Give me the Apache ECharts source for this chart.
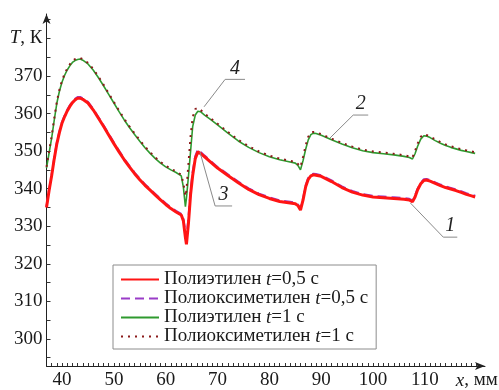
<!DOCTYPE html>
<html>
<head>
<meta charset="utf-8">
<script src="https://cdn.jsdelivr.net/npm/echarts@6/dist/echarts.min.js"></script>
<style>
  html, body { margin: 0; padding: 0; background: #fff; }
  #box { width: 499px; height: 390px; }
</style>
</head>
<body>
<div id="box"></div>
<script>
// x, мм
var xs = [37, 37.5, 38, 38.5, 39, 39.5, 40, 40.5, 41, 41.5, 42, 42.5, 43, 43.5, 44, 45, 46, 47, 48, 49,
  50, 51, 52, 53, 54, 55, 56, 57, 58, 59, 60, 61, 62, 63, 63.4, 63.8, 64, 64.4, 64.8, 65.2,
  65.7, 66.2, 66.7, 67.5, 68.5, 70, 72, 74, 76, 78, 80, 82, 84, 85, 85.5, 86, 86.5, 87, 87.5, 88,
  88.5, 89, 90, 92, 94, 96, 98, 100, 102, 104, 106, 107, 107.6, 108.1, 108.6, 109.2, 109.8, 110.3, 111, 112,
  113, 114, 115, 116, 117, 118, 119, 119.7];

// Полиэтилен t=0,5 с
var pe05 = [335.0, 339.5, 343.5, 348.0, 352.0, 355.0, 357.5, 359.2, 360.7, 361.9, 362.9, 363.6, 364.1, 364.1, 363.8, 362.8, 361.0, 358.8, 356.6, 354.3,
  352.0, 349.8, 347.7, 345.8, 344.0, 342.4, 340.9, 339.6, 338.3, 337.0, 335.8, 334.7, 333.8, 333.0, 331.5, 327.0, 325.2, 331.0, 338.5, 343.5,
  348.0, 349.8, 349.4, 348.5, 347.3, 345.5, 343.5, 341.6, 339.8, 338.4, 337.4, 336.6, 336.2, 336.0, 335.5, 334.3, 337.0, 340.5, 342.5, 343.4,
  343.7, 343.6, 343.3, 341.9, 340.3, 339.1, 338.3, 337.8, 337.6, 337.4, 337.2, 337.0, 336.5, 337.8, 339.7, 341.3, 342.2, 342.3, 342.0, 341.4,
  340.8, 340.3, 339.9, 339.5, 339.0, 338.5, 338.1, 337.8];

// Полиоксиметилен t=0,5 с
var pom05 = [335.3, 339.8, 343.8, 348.3, 352.3, 355.3, 357.8, 359.5, 361.0, 362.2, 363.2, 363.9, 364.4, 364.4, 364.1, 363.1, 361.3, 359.1, 356.9, 354.6,
  352.3, 350.1, 348.0, 346.1, 344.3, 342.7, 341.2, 339.9, 338.6, 337.3, 336.1, 335.0, 334.1, 333.3, 332.0, 328.5, 327.0, 332.5, 339.5, 344.5,
  348.7, 350.4, 349.8, 348.8, 347.6, 345.8, 343.8, 341.9, 340.1, 338.7, 337.7, 336.9, 336.5, 336.3, 335.8, 334.8, 337.5, 340.9, 342.9, 343.7,
  344.0, 343.9, 343.6, 342.2, 340.6, 339.4, 338.6, 338.1, 337.9, 337.7, 337.5, 337.3, 336.9, 338.2, 340.0, 341.6, 342.5, 342.6, 342.3, 341.7,
  341.1, 340.6, 340.2, 339.8, 339.3, 338.8, 338.4, 338.1];

// Полиэтилен t=1 с
var pe1 = [345.5, 349.5, 353.5, 358.3, 362.8, 366.0, 368.4, 370.2, 371.6, 372.7, 373.6, 374.1, 374.4, 374.5, 374.2, 373.2, 371.6, 369.6, 367.4, 365.1,
  362.8, 360.5, 358.3, 356.3, 354.4, 352.6, 350.9, 349.4, 348.0, 346.8, 345.8, 345.0, 344.3, 343.4, 340.5, 335.2, 337.5, 343.5, 350.0, 356.5,
  359.6, 360.6, 360.5, 359.6, 358.6, 357.0, 354.8, 352.7, 351.0, 349.6, 348.5, 347.7, 347.1, 346.8, 346.2, 345.0, 347.5, 350.5, 353.0, 354.4,
  354.8, 354.7, 354.2, 353.0, 351.9, 350.9, 350.1, 349.6, 349.3, 349.0, 348.6, 348.3, 347.9, 349.3, 351.3, 353.2, 354.1, 354.0, 353.6, 352.8,
  352.1, 351.5, 351.0, 350.6, 350.2, 349.9, 349.6, 349.4];

// Полиоксиметилен t=1 с
var pom1 = [345.8, 349.9, 354.0, 358.8, 363.2, 366.4, 368.8, 370.6, 372.0, 373.1, 374.0, 374.5, 374.8, 374.8, 374.5, 373.5, 371.9, 369.9, 367.7, 365.4,
  363.1, 360.8, 358.6, 356.6, 354.7, 352.9, 351.2, 349.7, 348.3, 347.1, 346.1, 345.3, 344.6, 343.7, 341.5, 338.0, 339.5, 347.0, 354.0, 359.0,
  361.2, 361.5, 361.0, 360.0, 358.9, 357.3, 355.1, 353.0, 351.3, 349.9, 348.8, 348.0, 347.4, 347.1, 346.6, 345.8, 348.5, 351.5, 353.8, 354.9,
  355.1, 355.0, 354.5, 353.3, 352.2, 351.2, 350.4, 349.9, 349.6, 349.3, 348.9, 348.6, 348.3, 350.0, 352.0, 353.8, 354.5, 354.3, 353.9, 353.1,
  352.4, 351.8, 351.3, 350.9, 350.5, 350.2, 349.9, 349.7];

var seriesNames = ['pe05', 'pom05', 'pe1', 'pom1'];
var legendTexts = {
  pe05: '{n|Полиэтилен }{i|t}{n|=0,5 с}',
  pom05: '{n|Полиоксиметилен }{i|t}{n|=0,5 с}',
  pe1: '{n|Полиэтилен }{i|t}{n|=1 с}',
  pom1: '{n|Полиоксиметилен }{i|t}{n|=1 с}'
};

var yLabels = [300, 310, 320, 330, 340, 350, 360, 370, 380];
var yTicks = [295, 300, 305, 310, 315, 320, 325, 330, 335, 340, 345, 350, 355, 360, 365, 370, 375, 380, 385];
var xLabels = [40, 50, 60, 70, 80, 90, 100, 110, 120];
var xTicks = [];
for (var t = 38; t <= 120; t++) xTicks.push(t);

// выноски: номер кривой, точка на кривой, излом, конец полки
var notes = [
  { text: '1', p: [107.2, 336.2], k: [113.55, 327.1], e: 116.25 },
  { text: '2', p: [91.7, 353.5], k: [96.17, 359.6], e: 99.07 },
  { text: '3', p: [66.6, 349.8], k: [69.53, 335.4], e: 72.81 },
  { text: '4', p: [67.4, 361.8], k: [71.46, 369.1], e: 75.3 }
];

var FONT = '"Liberation Serif", "Times New Roman", serif';
var TXT = '#1a1a1a';

function richText(size, lh) {
  return {
    n: { fontFamily: FONT, fontSize: size, lineHeight: lh, color: TXT },
    i: { fontFamily: FONT, fontSize: size, lineHeight: lh, fontStyle: 'italic', color: TXT }
  };
}

function pairs(arr) {
  return xs.map(function (x, i) { return [x, arr[i]]; });
}

var chart = echarts.init(document.getElementById('box'));
var option = {
  animation: false,
  backgroundColor: '#fff',
  grid: { left: 46.5, right: 14, top: 14, bottom: 24, containLabel: false, outerBoundsMode: 'none' },
  legend: {
    orient: 'vertical',
    left: 113,
    top: 265,
    padding: [5, 8, 3, 7],
    backgroundColor: '#fff',
    borderColor: '#8c8c8c',
    borderWidth: 1,
    itemWidth: 38,
    itemHeight: 14,
    itemGap: 0,
    itemStyle: { opacity: 0 },
    data: seriesNames,
    formatter: function (n) { return legendTexts[n]; },
    textStyle: { fontFamily: FONT, fontSize: 19, lineHeight: 19, color: TXT, rich: richText(19, 19) }
  },
  xAxis: {
    type: 'value',
    min: 37,
    max: 121.6,
    splitLine: { show: false },
    axisLine: { show: true, onZero: false, symbol: ['none', 'arrow'], symbolSize: [6, 10], lineStyle: { color: '#222', width: 1 } },
    axisTick: { show: true, inside: true, length: 3, customValues: xTicks, lineStyle: { color: '#333' } },
    axisLabel: {
      customValues: xLabels,
      margin: 5,
      fontFamily: FONT, fontSize: 19, color: TXT,
      formatter: function (v) { return v === 120 ? '{i|x}{n|, мм}' : '{n|' + v + '}'; },
      rich: richText(19)
    }
  },
  yAxis: {
    type: 'value',
    min: 292.8,
    max: 386.5,
    splitLine: { show: false },
    axisLine: { show: true, onZero: false, symbol: ['none', 'arrow'], symbolSize: [6, 10], lineStyle: { color: '#222', width: 1 } },
    axisTick: { show: true, inside: true, length: 4, customValues: yTicks, lineStyle: { color: '#333' } },
    axisLabel: {
      customValues: yLabels,
      margin: 4,
      fontFamily: FONT, fontSize: 19, color: TXT,
      formatter: function (v) { return v === 380 ? '{i|T}{n|, К}' : '{n|' + v + '}'; },
      rich: richText(19)
    }
  },
  series: [
    {
      name: 'pe05', type: 'line', data: pairs(pe05), symbol: 'none', z: 3,
      lineStyle: { color: '#ff1414', width: 3 }, itemStyle: { color: '#ff1414' }
    },
    {
      name: 'pom05', type: 'line', data: pairs(pom05), symbol: 'none', z: 2,
      lineStyle: { color: '#9a3cc8', width: 2, type: [9, 5] }, itemStyle: { color: '#9a3cc8' }
    },
    {
      name: 'pe1', type: 'line', data: pairs(pe1), symbol: 'none', z: 2,
      lineStyle: { color: '#2f9a2f', width: 1.6 }, itemStyle: { color: '#2f9a2f' }
    },
    {
      name: 'pom1', type: 'line', data: pairs(pom1), symbol: 'none', z: 3,
      lineStyle: { color: '#8b1a1a', width: 2, type: [2, 5] }, itemStyle: { color: '#8b1a1a' }
    }
  ]
};
chart.setOption(option);

// выноски с номерами кривых
var g = [];
notes.forEach(function (n) {
  var p = chart.convertToPixel({ gridIndex: 0 }, n.p);
  var k = chart.convertToPixel({ gridIndex: 0 }, n.k);
  var e = chart.convertToPixel({ gridIndex: 0 }, [n.e, n.k[1]]);
  g.push({
    type: 'polyline', z: 10,
    shape: { points: [p, k, e] },
    style: { stroke: '#8a8a8a', lineWidth: 1, fill: null }
  });
  g.push({
    type: 'text', z: 10,
    x: (k[0] + e[0]) / 2, y: k[1] - 1,
    style: {
      text: n.text, fontFamily: FONT, fontSize: 20, fontStyle: 'italic',
      fill: '#222', align: 'center', verticalAlign: 'bottom'
    }
  });
});
chart.setOption({ graphic: g });
</script>
</body>
</html>
